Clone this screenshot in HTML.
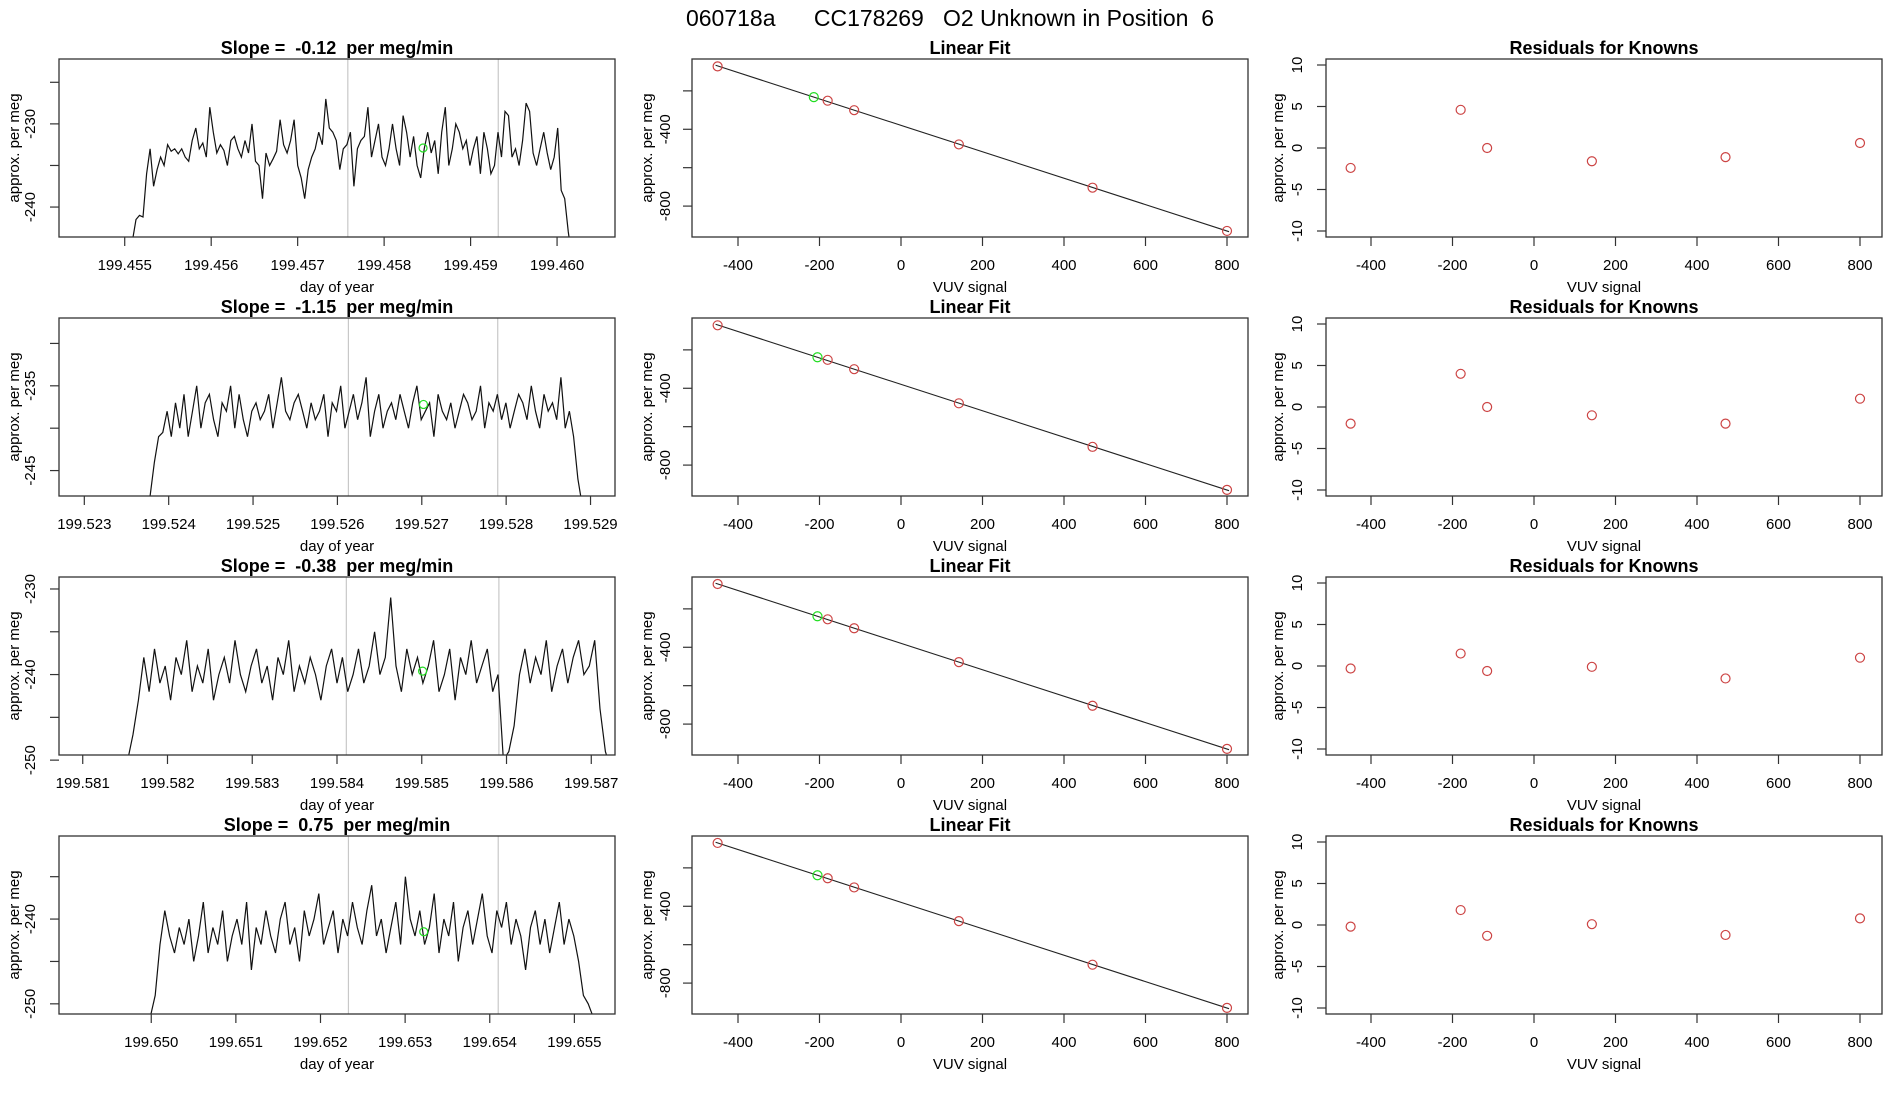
<!DOCTYPE html>
<html><head><meta charset="utf-8"><style>
html,body{margin:0;padding:0;background:#fff;}
svg{display:block;font-family:"Liberation Sans",sans-serif;}
svg text{white-space:pre;}
</style></head><body>
<svg id="chart" width="1900" height="1100" viewBox="0 0 1900 1100" xmlns="http://www.w3.org/2000/svg">
<text x="950" y="26" text-anchor="middle" font-size="23" xml:space="preserve">060718a      CC178269   O2 Unknown in Position  6</text>
</svg>
<script>
// ---- data ----
const slopes = ["-0.12","-1.15","-0.38","0.75"];
const tsStart = [199.45509,199.52378,199.58153,199.64999];
const tsEnd = [199.46017,199.52890,199.58723,199.65522];
const tsXMin = [199.45424,199.5227,199.58072,199.64891];
const tsXMax = [199.46067,199.52929,199.58728,199.65548];
const tsYMin = [-243.6,-248,-249.4,-251.2];
const tsYMax = [-222.2,-227,-228.6,-230.2];
const tsXTicks = [
 ["199.455","199.456","199.457","199.458","199.459","199.460"],
 ["199.523","199.524","199.525","199.526","199.527","199.528","199.529"],
 ["199.581","199.582","199.583","199.584","199.585","199.586","199.587"],
 ["199.650","199.651","199.652","199.653","199.654","199.655"]];
const tsYTicks = [[-225,-230,-235,-240],[-230,-235,-240,-245],[-230,-235,-240,-245,-250],[-235,-240,-245,-250]];
const tsYLabels = [[-230,-240],[-235,-245],[-230,-240,-250],[-240,-250]];
const greyLines = [[199.45758,199.45932],[199.52613,199.52790],[199.58411,199.58591],[199.65233,199.65410]];
const greenT = [199.45845,199.52702,199.58501,199.65322];
const greenV = [-232.9,-237.2,-239.6,-241.5];
const series1 = [-244,-241.5,-241,-241.2,-236,-233,-237.5,-235.5,-234,-235,-232.5,-233.3,-233,-233.6,-233,-234,-234.5,-232,-230.5,-233,-232.3,-234,-228,-231,-233.5,-232.5,-233.2,-235,-232,-231.5,-233,-234,-232,-233.5,-230,-234.5,-235,-239,-233.5,-235,-234.2,-233.3,-229.5,-232.5,-233.5,-232,-229.5,-235,-236.5,-239,-235.5,-234,-233,-231,-232.5,-227,-230.5,-231,-232,-235.5,-233,-232.5,-231,-237.5,-233,-232,-231.5,-228,-234,-232,-230,-234,-235,-233,-230,-233,-235,-229,-231,-234,-231.5,-235,-236.5,-233,-231,-233.5,-232,-236,-231,-228,-235,-233,-230,-231,-233,-232,-235,-233,-231.5,-236,-231,-233,-236,-235,-231,-234,-228.5,-229,-234,-233,-235,-232,-227.5,-228.5,-233.5,-235,-233,-231,-233.5,-235.5,-234,-230.5,-238,-239,-243,-246];
const series2 = [-248,-244,-241,-240.5,-238,-241,-237,-240,-236,-241,-238,-235,-240,-237,-236,-239,-241,-237,-238,-235,-240,-236,-239,-241,-238,-237,-239,-238,-236,-240,-237,-234,-238,-239,-237,-236,-238,-240,-237,-239,-238,-236,-241,-237,-238,-235,-240,-238,-236,-239,-237,-234,-241,-238,-236,-240,-238,-237,-239,-236,-238,-240,-237,-235,-239,-238,-237,-241,-236,-238,-239,-237,-240,-238,-236,-237,-239,-238,-235,-240,-237,-238,-236,-239,-237,-240,-238,-236,-237,-239,-235,-238,-240,-236,-238,-237,-239,-234,-240,-238,-241,-246,-249];
const series3 = [-250,-247,-243,-238,-242,-237,-241,-239,-243,-238,-240,-236,-242,-239,-241,-237,-243,-240,-238,-241,-236,-240,-242,-239,-237,-241,-239,-243,-238,-240,-236,-242,-239,-241,-238,-240,-243,-239,-237,-241,-238,-242,-240,-237,-241,-239,-235,-240,-238,-231,-239,-242,-237,-240,-238,-241,-239,-236,-242,-240,-237,-243,-238,-240,-236,-241,-239,-237,-242,-240,-250,-249,-246,-240,-237,-241,-238,-240,-236,-242,-239,-237,-241,-238,-236,-240,-239,-236,-244,-249,-251];
const series4 = [-251.5,-249,-243,-239,-242,-244,-241,-243,-240,-245,-242,-238,-244,-241,-243,-239,-245,-242,-240,-243,-238,-246,-241,-243,-239,-242,-244,-240,-238,-243,-241,-245,-239,-242,-240,-237,-243,-241,-239,-244,-240,-242,-238,-241,-243,-239,-236,-242,-240,-244,-241,-238,-243,-235,-240,-242,-239,-243,-241,-237,-244,-240,-242,-238,-245,-241,-239,-243,-240,-237,-242,-244,-239,-241,-238,-243,-240,-242,-246,-241,-239,-243,-240,-244,-241,-238,-243,-240,-242,-245,-249,-250,-251.5];
const allSeries = [series1,series2,series3,series4];
const knownX = [-450,-180,-115,142,470,800];
const residuals = [[-2.4,4.6,0,-1.6,-1.1,0.6],[-2,4,0,-1,-2,1],[-0.3,1.5,-0.6,-0.1,-1.5,1],[-0.2,1.8,-1.3,0.1,-1.2,0.8]];
const unknownX = [-214,-205,-205,-205];
const fitSlope = -0.688, fitIntercept = -379.6;
const fitXTicks = [-400,-200,0,200,400,600,800];
const fitYTicks = [-200,-400,-600,-800];
const fitYLabels = [-400,-800];
const resYTicks = [10,5,0,-5,-10];

// ---- drawing ----
const NS="http://www.w3.org/2000/svg";
const svg=document.getElementById('chart');
function mk(tag,attrs,parent){const e=document.createElementNS(NS,tag);for(const k in attrs)e.setAttribute(k,attrs[k]);(parent||svg).appendChild(e);return e;}
const cols=[[59,615],[692,1248],[1326,1882]];
const rowTop=[59,318,577,836], BOXH=178;
function scale(d0,d1,p0,p1){return v=>p0+(v-d0)/(d1-d0)*(p1-p0);}

function frame(g,L,R,T,B,title,xlab,ylab,ylabX){
  const box=mk('rect',{x:L,y:T,width:R-L,height:B-T,fill:'none',stroke:'#333','stroke-width':1.3},g);
  
  
  const t=mk('text',{x:(L+R)/2,y:T-5,'text-anchor':'middle','font-size':18,'font-weight':'bold','xml:space':'preserve'},g);t.textContent=title;
  
  
  const xl=mk('text',{x:(L+R)/2,y:B+55,'text-anchor':'middle','font-size':15},g);xl.textContent=xlab;
  
  
  const yl=mk('text',{x:ylabX,y:(T+B)/2,'text-anchor':'middle','font-size':15,transform:`rotate(-90 ${ylabX} ${(T+B)/2})`},g);yl.textContent=ylab;
  
  
}
function xTick(g,x,B,label){
  mk('line',{x1:x,x2:x,y1:B,y2:B+9,stroke:'#333','stroke-width':1.2},g);
  const t=mk('text',{x:x,y:B+33,'text-anchor':'middle','font-size':15},g);t.textContent=label;
  
  
}
function yTick(g,y,L,label,lx){
  mk('line',{x1:L,x2:L-9,y1:y,y2:y,stroke:'#333','stroke-width':1.2},g);
  if(label!==null){const t=mk('text',{x:lx,y:y,'text-anchor':'middle','font-size':15,transform:`rotate(-90 ${lx} ${y})`},g);t.textContent=label;
  
  }
}

for(let r=0;r<4;r++){
  const T=rowTop[r],B=T+BOXH;
  {
    const [L,R]=cols[0];
    const g=mk('g',{});
    
    
    const sx=scale(tsXMin[r],tsXMax[r],L,R), sy=scale(tsYMin[r],tsYMax[r],B,T);
    const clip=mk('clipPath',{id:'c'+r},g);
    mk('rect',{x:L,y:T,width:R-L,height:B-T},clip);
    greyLines[r].forEach(v=>{const l=mk('line',{x1:sx(v),x2:sx(v),y1:T,y2:B,stroke:'#c8c8c8','stroke-width':1.2},g);
      
      });
    const s=allSeries[r],n=s.length;
    const pts=s.map((v,i)=>sx(tsStart[r]+(tsEnd[r]-tsStart[r])*i/(n-1)).toFixed(1)+','+sy(v).toFixed(1)).join(' ');
    const pl=mk('polyline',{points:pts,fill:'none',stroke:'#111','stroke-width':1.2,'clip-path':`url(#c${r})`},g);
    
    
    const gc=mk('circle',{cx:sx(greenT[r]),cy:sy(greenV[r]),r:4,fill:'none',stroke:'#22dd22','stroke-width':1.2},g);
    
    
    frame(g,L,R,T,B,`Slope =  ${slopes[r]}  per meg/min`,'day of year','approx. per meg',19);
    tsXTicks[r].forEach(t=>xTick(g,sx(parseFloat(t)),B,t));
    tsYTicks[r].forEach(v=>yTick(g,sy(v),L,tsYLabels[r].includes(v)?String(v):null,35));
  }
  {
    const [L,R]=cols[1];
    const g=mk('g',{});
    
    
    const sx=scale(-400,800,738,1227), sy=scale(-34,-961,T,B);
    const fl=mk('line',{x1:sx(-455),y1:sy(fitSlope*-455+fitIntercept),x2:sx(805),y2:sy(fitSlope*805+fitIntercept),stroke:'#222','stroke-width':1.1},g);
    
    
    knownX.forEach((x,i)=>{const c=mk('circle',{cx:sx(x),cy:sy(fitSlope*x+fitIntercept+residuals[r][i]),r:4.5,fill:'none',stroke:'#cc4444','stroke-width':1.2},g);
      
      });
    const u=mk('circle',{cx:sx(unknownX[r]),cy:sy(fitSlope*unknownX[r]+fitIntercept),r:4.5,fill:'none',stroke:'#22dd22','stroke-width':1.2},g);
    
    
    frame(g,L,R,T,B,'Linear Fit','VUV signal','approx. per meg',652);
    fitXTicks.forEach(v=>xTick(g,sx(v),B,String(v)));
    fitYTicks.forEach(v=>yTick(g,sy(v),L,fitYLabels.includes(v)?String(v):null,670));
  }
  {
    const [L,R]=cols[2];
    const g=mk('g',{});
    
    
    const sx=scale(-400,800,1371,1860), sy=scale(10,-10,T+6,B-6);
    knownX.forEach((x,i)=>{const c=mk('circle',{cx:sx(x),cy:sy(residuals[r][i]),r:4.5,fill:'none',stroke:'#cc4444','stroke-width':1.2},g);
      
      });
    frame(g,L,R,T,B,'Residuals for Knowns','VUV signal','approx. per meg',1283);
    fitXTicks.forEach(v=>xTick(g,sx(v),B,String(v)));
    resYTicks.forEach(v=>yTick(g,sy(v),L,String(v),1302));
  }
}
</script>
</body></html>
